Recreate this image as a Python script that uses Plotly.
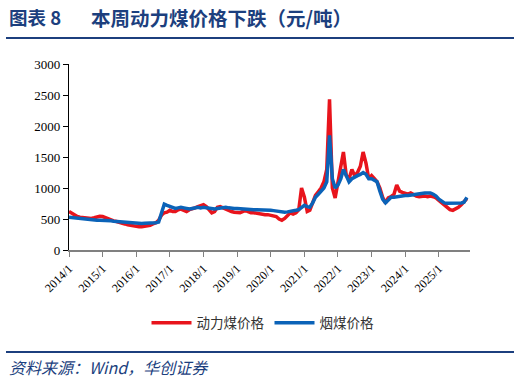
import plotly.graph_objects as go
import pandas as pd

months = pd.date_range("2014-01-01", "2025-11-01", freq="MS")

thermal_coal = [
    620, 590, 560, 540, 530, 525, 520, 515, 510, 520, 530, 545,   # 2014
    540, 520, 500, 480, 470, 460, 450, 440, 420, 405, 395, 385,   # 2015
    380, 375, 375, 380, 390, 400, 420, 440, 480, 560, 600, 610,   # 2016
    640, 620, 620, 650, 660, 640, 620, 650, 660, 680, 700, 720,   # 2017
    730, 700, 650, 600, 620, 690, 700, 680, 650, 640, 620, 610,   # 2018
    610, 600, 620, 640, 620, 600, 600, 590, 590, 580, 570, 570,   # 2019
    560, 550, 540, 500, 480, 510, 560, 600, 580, 600, 650, 1000,  # 2020
    850, 620, 640, 780, 880, 940, 1000, 1100, 1300, 2430, 1000, 840,  # 2021
    1100, 1300, 1580, 1200, 1150, 1300, 1200, 1250, 1350, 1580, 1400, 1150,  # 2022
    1200, 1150, 1100, 1000, 850, 760, 840, 860, 900, 1050, 950, 930,  # 2023
    920, 900, 920, 890, 870, 860, 870, 870, 860, 870, 860, 840,   # 2024
    800, 760, 720, 680, 650, 640, 660, 690, 730, 770, 830,        # 2025
]

bituminous_coal = [
    530, 525, 515, 505, 500, 495, 490, 485, 480, 480, 480, 480,   # 2014
    480, 478, 475, 470, 465, 460, 458, 455, 450, 445, 440, 435,   # 2015
    430, 428, 428, 430, 430, 432, 435, 440, 450, 600, 740, 720,   # 2016
    700, 680, 670, 680, 690, 680, 670, 660, 670, 680, 690, 680,   # 2017
    690, 680, 670, 660, 660, 670, 680, 690, 690, 680, 670, 670,   # 2018
    670, 665, 660, 660, 660, 655, 650, 650, 650, 648, 645, 640,   # 2019
    640, 635, 630, 620, 610, 610, 615, 620, 630, 640, 650, 680,   # 2020
    720, 700, 690, 760, 850, 900, 960, 1000, 1100, 1850, 1150, 1000,  # 2021
    1050, 1150, 1300, 1200, 1100, 1150, 1180, 1200, 1220, 1250, 1220, 1150,  # 2022
    1150, 1120, 1100, 950, 820, 760, 800, 850, 850, 860, 870, 880,   # 2023
    880, 880, 880, 890, 900, 910, 920, 920, 920, 920, 900, 870,   # 2024
    820, 780, 760, 755, 755, 755, 755, 755, 760, 770, 850,        # 2025
]

tick_dates = pd.date_range("2014-01-01", "2025-01-01", freq="YS")
tick_labels = [f"{d.year}/1" for d in tick_dates]
y_ticks = [0, 500, 1000, 1500, 2000, 2500, 3000]

NAVY = "#1c3f7e"

fig = go.Figure()
fig.add_trace(go.Scatter(x=months, y=thermal_coal, name="动力煤价格", mode="lines",
                         line=dict(color="#e8141c", width=3.5)))
fig.add_trace(go.Scatter(x=months, y=bituminous_coal, name="烟煤价格", mode="lines",
                         line=dict(color="#0b63b8", width=3.5)))

L, R, T, B = 69, 470, 64, 250
W, H = 520, 383
pw, ph = R - L, B - T

def px_x(x):
    return (x - L) / pw

def px_y(y):
    return (B - y) / ph

fig.update_layout(
    width=W, height=H,
    margin=dict(l=L, r=W - R, t=T, b=H - B),
    paper_bgcolor="white", plot_bgcolor="white",
    showlegend=True,
    legend=dict(orientation="h", x=px_x(263), y=px_y(323), xanchor="center", yanchor="middle",
                font=dict(family="Noto Sans CJK SC", size=13.5, color="#333333"),
                itemwidth=40, tracegroupgap=0, bgcolor="rgba(0,0,0,0)"),
    xaxis=dict(type="date", range=["2014-01-01", "2025-12-05"],
               tickmode="array", tickvals=tick_dates, ticktext=tick_labels,
               tickangle=-45, ticks="outside", ticklen=5, tickcolor="#808080",
               showline=True, linecolor="#808080", linewidth=1.5,
               showgrid=False, zeroline=False,
               tickfont=dict(family="Liberation Serif", size=12, color="#000000")),
    yaxis=dict(range=[0, 3000], tickvals=y_ticks, ticks="outside", ticklen=5,
               tickcolor="#000000", showline=True, linecolor="#000000", linewidth=1.2,
               showgrid=False, zeroline=False,
               tickfont=dict(family="Liberation Serif", size=13, color="#000000")),
)

fig.add_shape(type="line", xref="paper", yref="paper",
              x0=px_x(6), x1=px_x(514), y0=px_y(38), y1=px_y(38),
              line=dict(color=NAVY, width=2))
fig.add_shape(type="line", xref="paper", yref="paper",
              x0=px_x(6), x1=px_x(514), y0=px_y(352), y1=px_y(352),
              line=dict(color=NAVY, width=2))

fig.add_annotation(xref="paper", yref="paper", x=px_x(7), y=px_y(17),
                   xanchor="left", yanchor="middle", showarrow=False,
                   text="<b>图表 8</b>",
                   font=dict(family="Noto Sans CJK SC", size=18.5, color=NAVY))
fig.add_annotation(xref="paper", yref="paper", x=px_x(89), y=px_y(17),
                   xanchor="left", yanchor="middle", showarrow=False,
                   text="<b>本周动力煤价格下跌（元/吨）</b>",
                   font=dict(family="Noto Sans CJK SC", size=19.5, color=NAVY))
fig.add_annotation(xref="paper", yref="paper", x=px_x(7), y=px_y(367),
                   xanchor="left", yanchor="middle", showarrow=False,
                   text="<i>资料来源：Wind，华创证券</i>",
                   font=dict(family="Noto Sans CJK SC", size=16, color=NAVY))

fig.write_html("out.html")
